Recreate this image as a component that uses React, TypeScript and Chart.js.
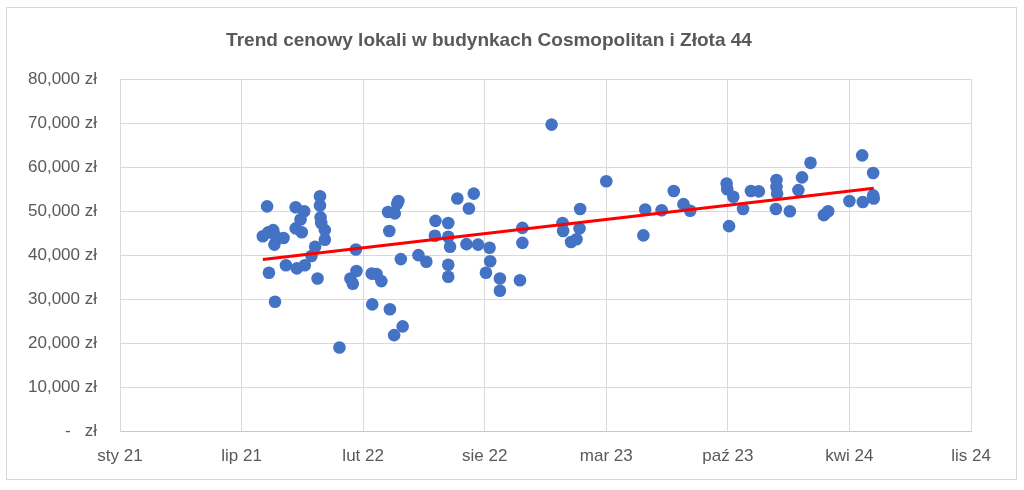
import { useEffect, useRef } from "react";
import { Chart, registerables } from "chart.js";

Chart.register(...registerables);

const TITLE = "Trend cenowy lokali w budynkach Cosmopolitan i Złota 44";
const MONTHS_PL = ["sty", "lut", "mar", "kwi", "maj", "cze", "lip", "sie", "wrz", "paź", "lis", "gru"];

// x axis runs on Excel-style day serials, like the source sheet
const X_MIN = "2021-01-04";
const X_MAX = "2024-11-04";
const X_STEP_DAYS = 200;
const Y_MAX = 80000;
const Y_STEP = 10000;

const saleDates = [
  "2021-08-27", "2021-09-03", "2021-09-05", "2021-09-06", "2021-09-13", "2021-09-15", "2021-09-16", "2021-09-16",
  "2021-09-30", "2021-10-04", "2021-10-20", "2021-10-20", "2021-10-22", "2021-10-28", "2021-10-30", "2021-11-03",
  "2021-11-04", "2021-11-15", "2021-11-21", "2021-11-25", "2021-11-29", "2021-11-29", "2021-11-30", "2021-12-01",
  "2021-12-07", "2021-12-07", "2021-12-31", "2022-01-18", "2022-01-22", "2022-01-27", "2022-01-28", "2022-02-22",
  "2022-02-23", "2022-03-02", "2022-03-10", "2022-03-21", "2022-03-23", "2022-03-24", "2022-03-31", "2022-04-01",
  "2022-04-05", "2022-04-07", "2022-04-11", "2022-04-14", "2022-05-10", "2022-05-23", "2022-06-06", "2022-06-07",
  "2022-06-28", "2022-06-28", "2022-06-28", "2022-06-28", "2022-07-01", "2022-07-13", "2022-07-28", "2022-08-01",
  "2022-08-09", "2022-08-16", "2022-08-29", "2022-09-04", "2022-09-05", "2022-09-21", "2022-09-21", "2022-10-24",
  "2022-10-28", "2022-10-28", "2022-12-15", "2023-01-02", "2023-01-03", "2023-01-16", "2023-01-25", "2023-01-30",
  "2023-01-31", "2023-03-15", "2023-05-15", "2023-05-18", "2023-06-14", "2023-07-04", "2023-07-20", "2023-07-31",
  "2023-09-29", "2023-09-30", "2023-10-03", "2023-10-10", "2023-10-26", "2023-11-08", "2023-11-21", "2023-12-19",
  "2023-12-20", "2023-12-20", "2023-12-21", "2024-01-11", "2024-01-25", "2024-01-31", "2024-02-14", "2024-03-07",
  "2024-03-14", "2024-04-18", "2024-05-09", "2024-05-10", "2024-05-27", "2024-05-27", "2024-05-28",
];

const prices = [
  44300, 51100, 45200, 36000, 45700, 42400, 44500, 29400,
  43900, 37700, 50900, 46100, 37000, 48100, 45200, 50000,
  37700, 39800, 41900, 34700, 53400, 51300, 48600, 47300,
  45700, 43500, 19000, 34700, 33500, 41300, 36400, 35800,
  28800, 35700, 34100, 49800, 45500, 27700, 21800, 49500,
  51700, 52300, 39100, 23800, 40000, 38500, 44400, 47800,
  47300, 44200, 37800, 35100, 41900, 52900, 42500, 50600,
  54000, 42400, 36000, 41700, 38600, 34700, 31900, 34300,
  46200, 42800, 69700, 47300, 45500, 43000, 43600, 46100,
  50500, 56800, 44500, 50400, 50200, 54600, 51600, 50100,
  56300, 55000, 46600, 53300, 50500, 54600, 54500, 50500,
  57100, 55500, 54000, 50000, 54800, 57700, 61000, 49100,
  50000, 52300, 62700, 52100, 58700, 53600, 52900,
];

const EPOCH_SERIAL = 25569;
const toSerial = (d: string) => Date.parse(d + "T00:00:00Z") / 86400000 + EPOCH_SERIAL;
const serialLabel = (v: number) => {
  const d = new Date((v - EPOCH_SERIAL) * 86400000);
  return MONTHS_PL[d.getUTCMonth()] + " " + String(d.getUTCFullYear()).slice(2);
};
const zl = (v: number) =>
  v === 0 ? "-   zł" : String(v).replace(/\B(?=(\d{3})+(?!\d))/g, ",") + " zł";

const FONT = "'Liberation Sans', Arial, sans-serif";

export default function App() {
  const ref = useRef<HTMLCanvasElement>(null);

  useEffect(() => {
    const ctx = ref.current?.getContext("2d");
    if (!ctx) return;

    const points = saleDates.map((d, i) => ({ x: toSerial(d), y: prices[i] }));

    // least-squares trend, drawn between first and last sale
    const n = points.length;
    const mx = points.reduce((s, p) => s + p.x, 0) / n;
    const my = points.reduce((s, p) => s + p.y, 0) / n;
    let sxy = 0;
    let sxx = 0;
    points.forEach((p) => {
      sxy += (p.x - mx) * (p.y - my);
      sxx += (p.x - mx) ** 2;
    });
    const slope = sxy / sxx;
    const xs = points.map((p) => p.x);
    const x0 = Math.min(...xs);
    const x1 = Math.max(...xs);
    const trend = [
      { x: x0, y: my + slope * (x0 - mx) },
      { x: x1, y: my + slope * (x1 - mx) },
    ];

    const chart = new Chart(ctx, {
      type: "scatter",
      data: {
        datasets: [
          {
            data: trend,
            showLine: true,
            borderColor: "#FF0000",
            borderWidth: 3,
            pointRadius: 0,
            order: 0,
          },
          {
            data: points,
            backgroundColor: "#4472C4",
            borderColor: "#4472C4",
            borderWidth: 0,
            pointRadius: 6.3,
            order: 1,
          },
        ],
      },
      options: {
        responsive: true,
        maintainAspectRatio: false,
        animation: false,
        layout: { padding: { left: 0, right: 45, top: 0, bottom: 0 } },
        plugins: {
          legend: { display: false },
          tooltip: { enabled: false },
          title: {
            display: true,
            text: TITLE,
            color: "#595959",
            font: { family: FONT, size: 19, weight: "bold", lineHeight: 1.2 },
            padding: { top: 21, bottom: 27.5 },
          },
        },
        scales: {
          x: {
            type: "linear",
            min: toSerial(X_MIN),
            max: toSerial(X_MAX),
            afterFit: (s) => {
              s.height = 48;
            },
            grid: { color: "#D9D9D9", drawTicks: false },
            border: { color: "#C8C8C8", width: 1 },
            ticks: {
              stepSize: X_STEP_DAYS,
              autoSkip: false,
              maxRotation: 0,
              padding: 15,
              color: "#595959",
              font: { family: FONT, size: 17 },
              callback: (v) => serialLabel(Number(v)),
            },
          },
          y: {
            min: 0,
            max: Y_MAX,
            afterFit: (s) => {
              s.width = 113;
            },
            grid: { color: "#D9D9D9", drawTicks: false },
            border: { color: "#D9D9D9", width: 1 },
            ticks: {
              stepSize: Y_STEP,
              padding: 23,
              color: "#595959",
              font: { family: FONT, size: 17 },
              callback: (v) => zl(Number(v)),
            },
          },
        },
      },
    });

    return () => {
      chart.destroy();
    };
  }, []);

  return (
    <div
      style={{
        position: "fixed",
        left: 6,
        top: 7,
        width: 1011,
        height: 473,
        boxSizing: "border-box",
        border: "1px solid #D9D9D9",
        background: "#fff",
      }}
    >
      <div style={{ position: "relative", width: 1009, height: 471 }}>
        <canvas ref={ref} />
      </div>
    </div>
  );
}
